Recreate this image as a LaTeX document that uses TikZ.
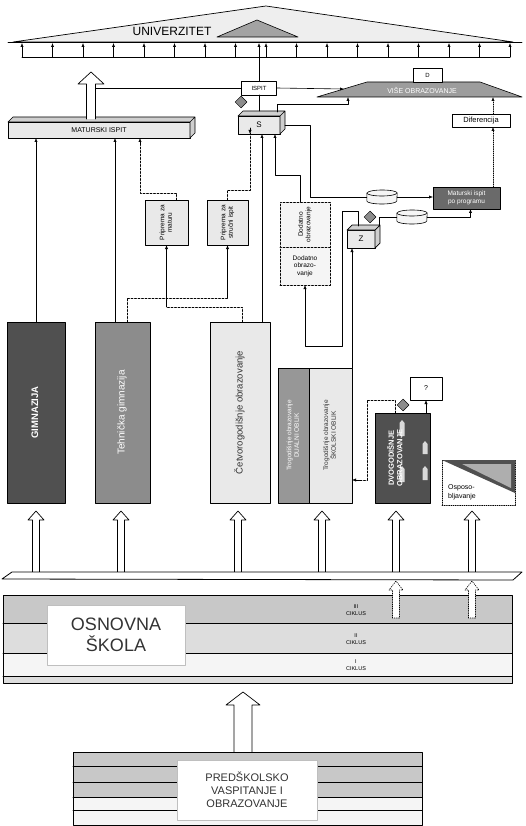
\documentclass[tikz,border=0pt]{standalone}
\usepackage{fontspec}
\usepackage{graphicx}
\setmainfont{Liberation Sans}
\usetikzlibrary{calc,positioning,shapes.geometric,arrows.meta}
\definecolor{SchoolDark}{HTML}{505050}
\definecolor{SchoolMid}{HTML}{8C8C8C}
\definecolor{SchoolLight}{HTML}{E9E9E9}
\definecolor{SchoolPale}{HTML}{F5F5F5}
\definecolor{RoofGray}{HTML}{EEEEEE}
\definecolor{CycleDark}{HTML}{C8C8C8}
\definecolor{CycleMid}{HTML}{DDDDDD}
\newcommand\sz[2]{\fontsize{#1}{#2}\selectfont}
\newcommand\uptext[1]{\rotatebox{90}{\begin{tabular}{@{}c@{}}#1\end{tabular}}}

\begin{document}
\begin{tikzpicture}[x=1pt,y=-1pt,line cap=round,line join=round,
    box/.style={draw,line width=0.7pt,inner sep=1pt,outer sep=0pt,anchor=north west,align=center},
    tip/.style={-{Latex[length=4pt,width=3.2pt]},line width=0.6pt},
    dsh/.style={dash pattern=on 2pt off 1.5pt,line width=0.7pt},
    dot/.style={dash pattern=on 1pt off 1.2pt,line width=0.6pt},
    flag/.style={diamond,draw,fill=SchoolMid,inner sep=0pt,minimum size=12pt,line width=0.5pt},
    drum/.style={inner sep=0pt,minimum width=30pt,minimum height=14pt}]
  \useasboundingbox (0,0) rectangle (525,826);

  % univerzitet
  \draw[line width=0.7pt,fill=RoofGray] (13,42) -- (266,6) -- (513,42) -- cycle;
  \draw[line width=0.6pt,fill=SchoolMid!80] (217,37) -- (257,20) -- (298,37) -- cycle;
  \draw[line width=0.9pt] (8,42) -- (522,42);
  \node (uni) at (172,31) {\sz{12}{14}UNIVERZITET};
  \draw[line width=0.7pt] (22,57) -- (510,57);
  \foreach \k in {0,...,16}
    \draw[tip] ({22+30.5*\k},57) -- ({22+30.5*\k},43);

  % vise obrazovanje
  \draw[line width=0.6pt,fill=SchoolMid!85] (317,97) -- (367,82) -- (480,82) -- (522,97) -- cycle;
  \node[text=white] (vise) at (422,90) {\sz{7}{8}VIŠE OBRAZOVANJE};
  \node[box,minimum width=29pt,minimum height=14pt,fill=white] (dee) at (413,68) {\sz{6}{7}D};
  \coordinate (viseL) at (344,89);
  \coordinate (viseB1) at (348,97);
  \coordinate (viseB2) at (493,97);

  % gornji dio
  \node[box,minimum width=35pt,minimum height=14pt,fill=white] (ispit) at (241.5,81) {\sz{6}{7}ISPIT};
  \node[box,minimum width=182pt,minimum height=16pt,fill=SchoolLight] (matura) at (8,122) {\sz{7}{8}MATURSKI ISPIT};
  \node[box,minimum width=42pt,minimum height=18pt,fill=SchoolLight] (sbox) at (238,116) {\sz{8}{9}S};
  \node[box,minimum width=28pt,minimum height=18pt,fill=SchoolLight] (zbox) at (347,230) {\sz{8}{9}Z};
  \foreach \c in {matura,sbox,zbox}
    \draw[line width=0.7pt,fill=SchoolLight!75!gray] (\c.north west) -- ++(5,-5) -- ($(\c.north east)+(5,-5)$)
      -- ($(\c.south east)+(5,-5)$) -- (\c.south east) -- (\c.north east) -- cycle (\c.north east) -- ++(5,-5);
  \node[flag] (sflag) at (241,102) {};
  \node[flag] (zflag) at (370,217) {};
  \node[box,minimum width=58pt,minimum height=13pt,fill=white] (dif) at (452,114) {\sz{7.5}{8}Diferencija};
  \node[box,minimum width=67pt,minimum height=22pt,fill=SchoolDark!85,text=white,font=\sz{6.5}{7.5}] (mispit) at (433,187) {Maturski ispit\\po programu};
  \node[drum] (cyl1) at (382,197) {};
  \node[drum] (cyl2) at (412,217) {};
  \foreach \c in {cyl1,cyl2} {
    \draw[line width=0.6pt,fill=SchoolPale] ($(\c.west)+(0,-4)$) -- ($(\c.west)+(0,4)$)
      arc[start angle=180,end angle=360,x radius=15pt,y radius=3pt] -- ($(\c.east)+(0,-4)$)
      arc[start angle=0,end angle=180,x radius=15pt,y radius=3pt] -- cycle;
    \draw[line width=0.6pt] ($(\c.west)+(0,-4)$) arc[start angle=180,end angle=360,x radius=15pt,y radius=3pt];
  }
  \node[box,minimum width=43pt,minimum height=45pt,fill=SchoolLight] (prmat) at (145,200) {\sz{6.5}{7.5}\uptext{Priprema za\\maturu}};
  \node[box,minimum width=41pt,minimum height=45pt,fill=SchoolLight] (prstr) at (207,200) {\sz{6.5}{7.5}\uptext{Priprema za\\stručni ispit}};
  \node[box,dsh,minimum width=50pt,minimum height=45pt,fill=SchoolPale] (dodA) at (280,202) {\sz{6.5}{7.5}\uptext{Dodatno\\obrazovanje}};
  \node[box,dsh,minimum width=50pt,minimum height=38pt,fill=SchoolPale,font=\sz{6.5}{7.5}] (dodB) at (280,247) {Dodatno\\obrazo-\\vanje};

  % srednje skole
  \node[box,minimum width=58pt,minimum height=181pt,fill=SchoolDark,text=white] (gim) at (7,322) {\sz{9.5}{11}\bfseries\uptext{GIMNAZIJA}};
  \node[box,minimum width=55pt,minimum height=181pt,fill=SchoolMid,text=white] (teh) at (95,322) {\sz{10}{11}\uptext{Tehnička gimnazija}};
  \node[box,minimum width=60pt,minimum height=181pt,fill=SchoolLight,text=black!80] (cet) at (210,322) {\sz{9.5}{11}\uptext{Četvorogodišnje obrazovanje}};
  \node[box,minimum width=31pt,minimum height=135pt,fill=SchoolMid!90,text=white] (trod) at (278,368) {\sz{6.5}{7.5}\uptext{Trogodišnje obrazovanje\\DUALNI OBLIK}};
  \node[box,minimum width=43pt,minimum height=135pt,fill=SchoolLight,text=black!80] (tros) at (309,368) {\sz{6.5}{7.5}\uptext{Trogodišnje obrazovanje\\ŠKOLSKI OBLIK}};
  \node[box,minimum width=55pt,minimum height=90pt,fill=SchoolDark] (dvo) at (375,413) {};
  \foreach \px/\py/\ph in {402/420/16,425/441/13,402/466/16,425/466/14}
    \fill[white!85!black] (\px-2.5,\py+\ph) -- (\px-2.5,\py+3) -- (\px,\py) -- (\px+2.5,\py+3) -- (\px+2.5,\py+\ph) -- cycle;
  \node[text=white] (dvoT) at (396,458) {\sz{7.5}{8.5}\bfseries\uptext{DVOGODIŠNJE\\OBRAZOVANJE}};
  \node[box,minimum width=32pt,minimum height=23pt,fill=white] (q) at (410,377) {\sz{7}{8}?};
  \node[flag] (dflag) at (403,405) {};
  \node[box,dot,minimum width=73pt,minimum height=45pt] (osp) at (442,460) {};
  \fill[SchoolDark] (osp.north west) -- (osp.north east) -- ($(osp.north east)+(0,33)$) -- cycle;
  \fill[SchoolMid!70] (462,464) -- (511,464) -- (511,488) -- cycle;
  \node[anchor=south west,align=left,inner sep=0pt,font=\sz{7}{8.5}] (ospT) at ($(osp.south west)+(6,-5)$) {Osposo-\\bljavanje};

  % veze
  \draw[tip] (ispit.north) -- (ispit.north |- 0,43);
  \draw[line width=0.6pt] (ispit.south) -- ($(sbox.north)+(0,-5)$);
  \draw[tip] (ispit.east) -- (viseL);
  \draw[tip] ($(sbox.north east)+(-3,-4)$) -- ++(0,-8) -| (viseB1);
  \draw[line width=0.6pt] ($(sbox.east)+(5,0)$) -- ++(25,0) |- (cyl1.west);
  \draw[tip] (cyl1.east) -- (cyl1.east -| mispit.west);
  \draw[line width=0.6pt] ($(zbox.north east)+(4,-5)$) |- (cyl2.west);
  \draw[tip] (cyl2.east) -| ($(mispit.south)+(4,0)$);
  \draw[dot,tip] ($(dif.south |- mispit.north)+(12,0)$) -- ($(dif.south)+(12,0)$);
  \draw[dot,tip] ($(dif.north)+(12,0)$) -- (viseB2);

  \coordinate (sIn2) at ($(sbox.south)+(3,0)$);
  \coordinate (sIn3) at ($(sbox.south)+(16,0)$);
  \draw[dsh] (prstr.north) -- ++(0,-10) -| ($(sbox.south west)+(12,-6)$);
  \draw[tip] ($(sbox.south west)+(12,-6)$) -- ($(sbox.south west)+(12,0)$);
  \draw[tip] (sIn2 |- cet.north) -- (sIn2);
  \draw[tip] ($(dodA.north west)+(20,0)$) -- ++(0,-27) -| (sIn3);

  \coordinate (tehA) at ($(teh.north west)+(20,0)$);
  \coordinate (tehB) at ($(teh.north west)+(32,0)$);
  \coordinate (cetA) at ($(cet.north west)+(32,0)$);
  \coordinate (matIn) at ($(matura.south west)+(132,0)$);
  \coordinate (jStr) at (prstr.south |- 0,298);
  \coordinate (jMat) at (prmat.south |- 0,307);
  \draw[tip] (gim.north) -- (gim.north |- matura.south);
  \draw[tip] (tehA) -- (tehA |- matura.south);
  \draw[dsh] ($(prmat.north)+(10,0)$) -- ++(0,-7) -| ($(matIn)+(0,6)$);
  \draw[tip] ($(matIn)+(0,6)$) -- (matIn);
  \draw[dsh] (tehB) |- (jStr);
  \draw[tip] (jStr) -- (prstr.south);
  \draw[dsh] (cetA) |- (jMat);
  \draw[tip] (jMat) -- (prmat.south);

  \draw[tip] ($(zbox.north west)+(11,-4)$) -- ++(0,-15) -| ++(-16,135) -| (dodB.south);
  \draw[tip] (tros.north east) -- (tros.north east |- zbox.south);
  \draw[dsh] ($(dvo.north west)+(20,0)$) -- ++(0,-13) -| ++(-28,80) -- ++(-6,0);
  \draw[tip] (361,480) -- (tros.east |- 0,480);
  \draw[tip] (q.south |- dvo.north) -- (q.south);

  % strelice
  \draw[line width=0.7pt,fill=white] (86.5,119) -- (86.5,84) -- (78,84) -- (91,72) -- (104,84) -- (95.5,84) -- (95.5,119);
  \coordinate (hollowTop) at (95.5,88);
  \draw[line width=0.6pt] (ispit.west) -- (hollowTop);
  \foreach \x in {36,121,238,322,396,472}
    \draw[line width=0.7pt,fill=white] (\x-3.5,575) -- (\x-3.5,520) -- (\x-8,520) -- (\x,511) -- (\x+8,520) -- (\x+3.5,520) -- (\x+3.5,575);
  \draw[line width=0.8pt,fill=white] (2,579) -- (12,572) -- (522,572) -- (513,580) -- cycle;

  % osnovna skola
  \fill[CycleDark] (3,595) rectangle (512,623);
  \fill[CycleMid] (3,623) rectangle (512,653);
  \fill[SchoolPale] (3,653) rectangle (512,676);
  \fill[CycleMid] (3,676) rectangle (512,683);
  \draw[line width=0.7pt] (3,623) -- (512,623) (3,653) -- (512,653) (3,676) -- (512,676);
  \draw[line width=0.9pt] (3,595) rectangle (512,683);
  \foreach \x in {396,472}
    \draw[dot,fill=white] (\x-3.5,618) -- (\x-3.5,590) -- (\x-7,590) -- (\x,581) -- (\x+7,590) -- (\x+3.5,590) -- (\x+3.5,618) -- cycle;
  \node[box,draw=black!25,line width=0.4pt,minimum width=138pt,minimum height=60pt,fill=white,text=black!80,font=\sz{18}{21}] (osnovna) at (47,605) {OSNOVNA\\ŠKOLA};
  \node[align=center,font=\sz{5.5}{6.5}] (c3) at (356,610) {III\\CIKLUS};
  \node[align=center,font=\sz{5.5}{6.5}] (c2) at (356,639) {II\\CIKLUS};
  \node[align=center,font=\sz{5.5}{6.5}] (c1) at (356,665) {I\\CIKLUS};

  % predskolsko
  \draw[line width=0.7pt,fill=white] (234,752) -- (234,705) -- (226,705) -- (243,692) -- (260,705) -- (252,705) -- (252,752);
  \fill[CycleDark] (73,752) rectangle (422,797);
  \fill[SchoolPale] (73,797) rectangle (422,825);
  \draw[line width=0.7pt] (73,766) -- (422,766) (73,782) -- (422,782) (73,797) -- (422,797) (73,810) -- (422,810);
  \draw[line width=0.9pt] (73,752) rectangle (422,825);
  \node[box,draw=black!25,line width=0.4pt,minimum width=140pt,minimum height=60pt,fill=white,text=black!80,font=\sz{11}{13}] (predsk) at (177,760) {PREDŠKOLSKO\\VASPITANJE I\\OBRAZOVANJE};
\end{tikzpicture}
\end{document}
